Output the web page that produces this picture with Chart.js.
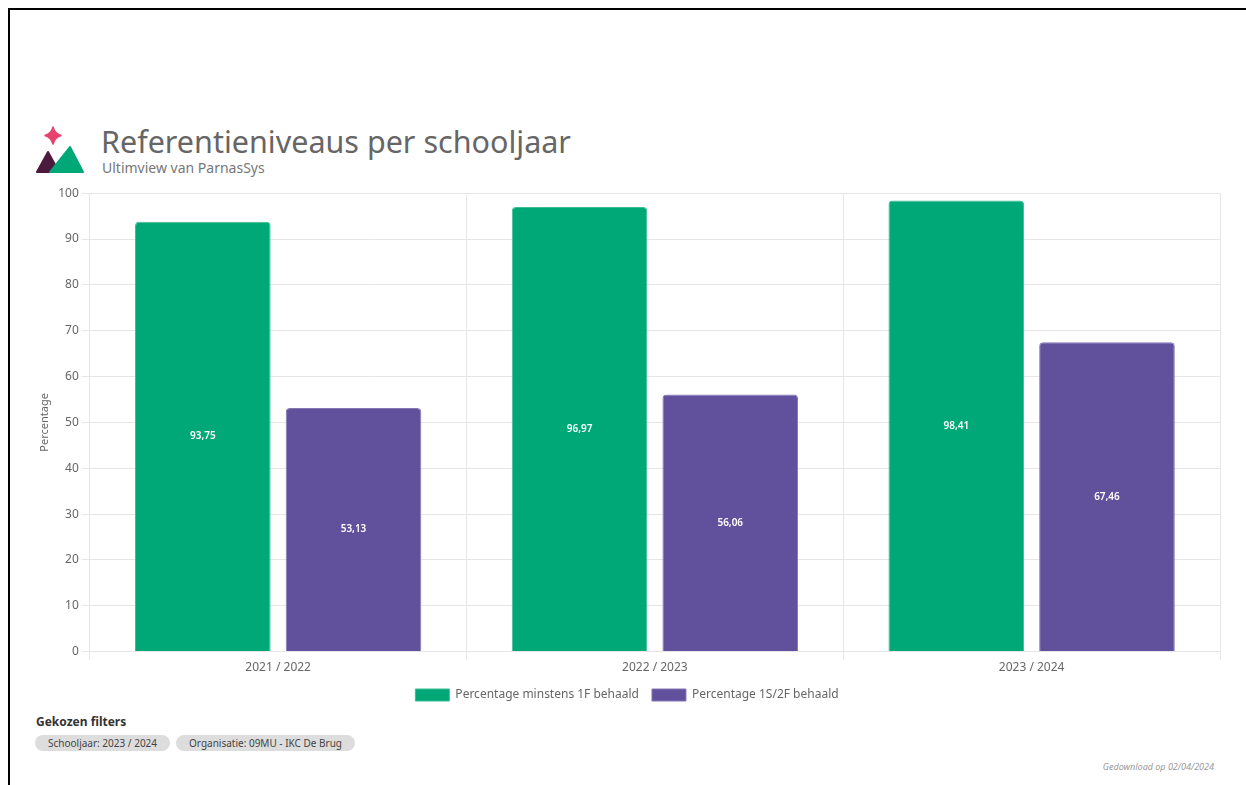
<!DOCTYPE html>
<html>
<head>
<meta charset="utf-8">
<script src="https://cdn.jsdelivr.net/npm/chart.js@4"></script>
<style>
  body { margin: 0; background: #fff; font-family: "Noto Sans", "Open Sans", sans-serif; }
  .frame { position: absolute; left: 8px; top: 8px; width: 1300px; height: 900px; border-top: 2px solid #000; border-left: 2px solid #000; }
  .logo { position: absolute; left: 34px; top: 126px; }
  .title { position: absolute; left: 101px; top: 120px; font-size: 30.5px; color: #666; white-space: nowrap; }
  .subtitle { position: absolute; left: 102px; top: 158px; font-size: 14px; color: #777; }
  .chart-box { position: absolute; left: 34px; top: 183px; width: 1196px; height: 528px; }
  .filters-title { position: absolute; left: 36px; top: 713px; font-size: 12px; font-weight: bold; color: #333; }
  .pills { position: absolute; left: 35px; top: 735px; display: flex; gap: 6px; }
  .pill { background: #ddd; border-radius: 8px; padding: 0 13px; font-size: 10px; color: #444; line-height: 16px; }
  .download { position: absolute; right: 32px; top: 760px; font-size: 9px; font-style: italic; color: #999; }
</style>
</head>
<body>
<div class="frame"></div>
<svg class="logo" width="50" height="48" viewBox="0 0 50 48">
  <path d="M19 1 Q20.5 7.5 27 9.5 Q20.5 11.5 19 18 Q17.5 11.5 11 9.5 Q17.5 7.5 19 1 Z" fill="#e8426f" stroke="#e8426f" stroke-width="1.5" stroke-linejoin="round"/>
  <path d="M3 46 L14 26 L25 46 Z" fill="#4c1a3c" stroke="#4c1a3c" stroke-width="2" stroke-linejoin="round"/>
  <path d="M16 46 L36 21 L49 46 Z" fill="#00a878" stroke="#00a878" stroke-width="2" stroke-linejoin="round"/>
</svg>
<div class="title">Referentieniveaus per schooljaar</div>
<div class="subtitle">Ultimview van ParnasSys</div>
<div class="chart-box"><canvas id="myChart"></canvas></div>
<div class="filters-title">Gekozen filters</div>
<div class="pills">
  <div class="pill">Schooljaar: 2023 / 2024</div>
  <div class="pill">Organisatie: 09MU - IKC De Brug</div>
</div>
<div class="download">Gedownload op 02/04/2024</div>

<script>
// Data
const schoolYears = ['2021 / 2022', '2022 / 2023', '2023 / 2024'];
const minimum1F = [93.75, 96.97, 98.41];
const level1S2F = [53.13, 56.06, 67.46];
const seriesNames = ['Percentage minstens 1F behaald', 'Percentage 1S/2F behaald'];

// value labels in the middle of each bar
const barLabels = {
  id: 'barLabels',
  afterDatasetsDraw(chart) {
    const ctx = chart.ctx;
    ctx.save();
    ctx.fillStyle = '#fff';
    ctx.font = '600 10px "Noto Sans", sans-serif';
    ctx.textAlign = 'center';
    ctx.textBaseline = 'middle';
    chart.data.datasets.forEach((ds, i) => {
      chart.getDatasetMeta(i).data.forEach((bar, j) => {
        const mid = (bar.y + bar.base) / 2;
        ctx.fillText(ds.data[j].toFixed(2).replace('.', ','), bar.x, mid);
      });
    });
    ctx.restore();
  }
};

const data = {
  labels: schoolYears,
  datasets: [{
    label: seriesNames[0],
    data: minimum1F,
    backgroundColor: '#00a878',
    borderColor: '#3bbd95',
    borderWidth: 1,
    borderRadius: 4,
    borderSkipped: 'bottom'
  }, {
    label: seriesNames[1],
    data: level1S2F,
    backgroundColor: '#61509c',
    borderColor: '#8577b5',
    borderWidth: 1,
    borderRadius: 4,
    borderSkipped: 'bottom'
  }]
};

const config = {
  type: 'bar',
  data: data,
  plugins: [barLabels],
  options: {
    responsive: true,
    maintainAspectRatio: false,
    animation: false,
    layout: { padding: { top: 4, right: 10 } },
    plugins: {
      legend: {
        position: 'bottom',
        labels: {
          boxWidth: 34,
          boxHeight: 12,
          padding: 13,
          color: '#666',
          font: { size: 12, family: '"Noto Sans", sans-serif' }
        }
      },
      tooltip: { enabled: false }
    },
    scales: {
      y: {
        min: 0,
        max: 100,
        ticks: {
          stepSize: 10,
          color: '#666',
          font: { size: 12, family: '"Noto Sans", sans-serif' }
        },
        grid: { color: '#e6e6e6' },
        border: { color: '#e6e6e6' },
        title: {
          display: true,
          text: 'Percentage',
          color: '#666',
          font: { size: 11, family: '"Noto Sans", sans-serif' }
        }
      },
      x: {
        ticks: {
          padding: 1,
          color: '#666',
          font: { size: 12, family: '"Noto Sans", sans-serif' }
        },
        grid: { color: '#e6e6e6' },
        border: { color: '#e6e6e6' }
      }
    }
  }
};

const myChart = new Chart(document.getElementById('myChart'), config);
</script>
</body>
</html>
